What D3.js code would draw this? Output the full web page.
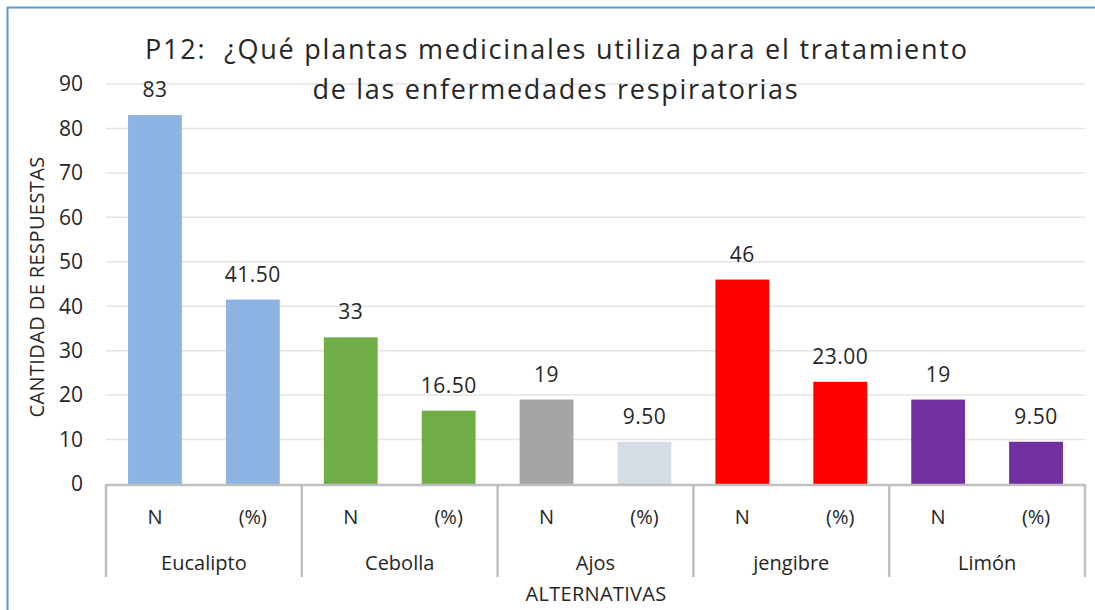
<!DOCTYPE html>
<html><head><meta charset="utf-8">
<script src="https://cdn.jsdelivr.net/npm/d3@7"></script>
<style>body{margin:0;background:#fff}svg{display:block}text{font-family:"Open Sans",sans-serif;fill:#262626}</style>
</head><body><svg id="c" width="1095" height="610"></svg>
<script>
const groups = ["Eucalipto","Cebolla","Ajos","jengibre","Limón"];
const subs = ["N","(%)"];
const valuesN = [83,33,19,46,19];
const valuesPct = [41.5,16.5,9.5,23,9.5];
const colorsN = ["#8db4e2","#70ad47","#a5a5a5","#ff0000","#7030a0"];
const colorsPct = ["#8db4e2","#70ad47","#d6dce4","#ff0000","#7030a0"];
const yTicks = [0,10,20,30,40,50,60,70,80,90];
const titleLines = ["P12:  ¿Qué plantas medicinales utiliza para el tratamiento","de las enfermedades respiratorias"];
const yTitle = "CANTIDAD DE RESPUESTAS";
const xTitle = "ALTERNATIVAS";

const svg = d3.select("#c");
// frame
svg.append("line").attr("x1",7).attr("x2",1095).attr("y1",7.5).attr("y2",7.5).attr("stroke","#5b9bd5").attr("stroke-width",2);
svg.append("line").attr("x1",7.5).attr("x2",7.5).attr("y1",7).attr("y2",610).attr("stroke","#5b9bd5").attr("stroke-width",2);

const L=106,R=1085,T=84,B=484;
const y = d3.scaleLinear().domain([0,90]).range([B,T]);
const data=[];
groups.forEach((g,i)=>{
  data.push({g,s:subs[0],v:valuesN[i],c:colorsN[i],lab:d3.format("d")(valuesN[i])});
  data.push({g,s:subs[1],v:valuesPct[i],c:colorsPct[i],lab:d3.format(".2f")(valuesPct[i])});
});
const x = d3.scaleBand().domain(data.map((d,i)=>i)).range([L,R]).paddingInner(0.45).paddingOuter(0.225);
const xg = d3.scaleBand().domain(groups).range([L,R]);

// gridlines
svg.append("g").selectAll("line").data(yTicks.filter(t=>t>0)).join("line")
  .attr("x1",L).attr("x2",R).attr("y1",d=>y(d)).attr("y2",d=>y(d))
  .attr("stroke","#e4e4e4").attr("stroke-width",1.5);
// y tick labels
svg.append("g").selectAll("text").data(yTicks).join("text")
  .attr("x",83).attr("y",d=>y(d)).attr("dy","0.35em").attr("text-anchor","end")
  .attr("font-size",21).text(d=>d);

// bars
svg.append("g").selectAll("rect").data(data).join("rect")
  .attr("x",(d,i)=>x(i)).attr("width",x.bandwidth())
  .attr("y",d=>y(d.v)).attr("height",d=>B-y(d.v)).attr("fill",d=>d.c);
// value labels
svg.append("g").selectAll("text").data(data).join("text")
  .attr("x",(d,i)=>x(i)+x.bandwidth()/2).attr("y",d=>y(d.v)-18)
  .attr("text-anchor","middle").attr("font-size",21).attr("letter-spacing",0.5).text(d=>d.lab);

// axis
const ax = svg.append("g").attr("stroke","#bfbfbf");
ax.append("line").attr("x1",L).attr("x2",R).attr("y1",B+1).attr("y2",B+1).attr("stroke-width",2.5);
const seps = groups.map(g=>xg(g)).concat([R]);
ax.selectAll("line.sep").data(seps).join("line").attr("class","sep")
  .attr("x1",d=>d).attr("x2",d=>d).attr("y1",B).attr("y2",577).attr("stroke-width",2.5);

// sub labels
svg.append("g").selectAll("text").data(data).join("text")
  .attr("x",(d,i)=>x(i)+x.bandwidth()/2).attr("y",517).attr("dy","0.35em")
  .attr("text-anchor","middle").attr("font-size",20).text(d=>d.s);
// group labels
svg.append("g").selectAll("text").data(groups).join("text")
  .attr("x",d=>xg(d)+xg.bandwidth()/2).attr("y",563).attr("dy","0.35em")
  .attr("text-anchor","middle").attr("font-size",20).text(d=>d);

// axis titles
svg.append("text").attr("x",596).attr("y",594).attr("dy","0.35em").attr("text-anchor","middle")
  .attr("font-size",20).attr("letter-spacing",0.3).text(xTitle);
svg.append("text").attr("transform","translate(37,287) rotate(-90)").attr("dy","0.35em")
  .attr("text-anchor","middle").attr("font-size",20).attr("letter-spacing",0.4).text(yTitle);

// title
const tl = [822,485], tx=[556,555];
svg.append("g").selectAll("text").data(titleLines).join("text")
  .attr("x",(d,i)=>tx[i]).attr("y",(d,i)=>50+i*40).attr("dy","0.35em").attr("text-anchor","middle")
  .attr("font-size",27).attr("xml:space","preserve").style("white-space","pre")
  .attr("textLength",(d,i)=>tl[i]).attr("lengthAdjust","spacing").text(d=>d);
</script></body></html>
